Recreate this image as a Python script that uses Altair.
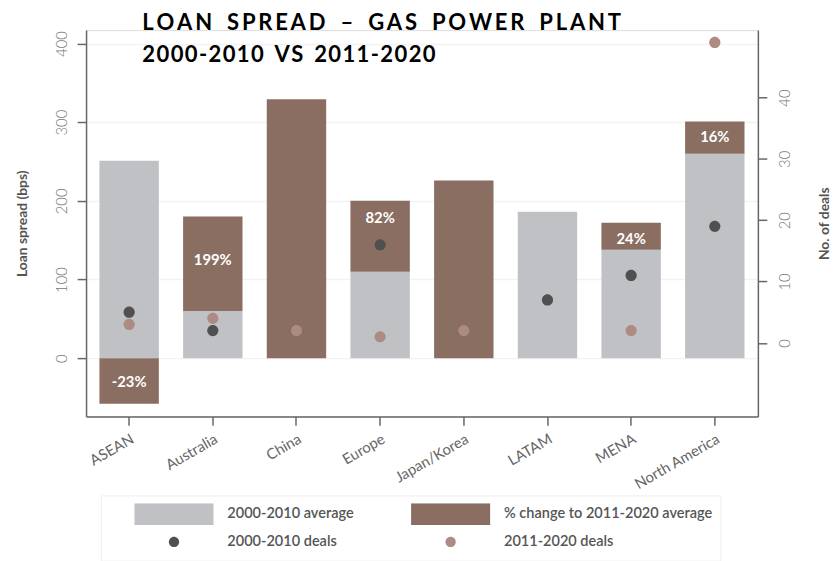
import altair as alt
import pandas as pd

# ---------------- data ----------------
regions = ["ASEAN", "Australia", "China", "Europe", "Japan/Korea", "LATAM", "MENA", "North America"]
avg_2000_2010 = [251, 60, None, 110, None, 186, 138, 260]          # bps
avg_2011_2020 = [193, 180, 329, 200, 226, None, 172, 301]          # bps
pct_change = ["-23%", "199%", None, "82%", None, None, "24%", "16%"]
label_value = [-30, 125, None, 178, None, None, 152, 281]          # bps level where the % label sits
deals_2000_2010 = [5, 2, None, 16, None, 7, 11, 19]
deals_2011_2020 = [3, 4, 2, 1, 2, None, 2, 49]

S_AVG = "2000-2010 average"
S_CHG = "% change to 2011-2020 average"
S_D1 = "2000-2010 deals"
S_D2 = "2011-2020 deals"
# legend fills column by column: (avg, deals 00-10) | (change, deals 11-20)
series = [S_AVG, S_D1, S_CHG, S_D2]
colors = ["#c0c1c5", "#505050", "#8a6e61", "#ad8b82"]

RECT = "M-1,-0.275H1V0.275H-1Z"
DOT = "M0.13,0A0.13,0.13,0,1,1,-0.13,0A0.13,0.13,0,1,1,0.13,0Z"
shapes = [RECT, DOT, RECT, DOT]

rows = []
for i, r in enumerate(regions):
    b, a = avg_2000_2010[i], avg_2011_2020[i]
    if a is None:
        lo = hi = None
    elif b is None:
        lo, hi = 0, a
    elif a >= b:
        lo, hi = b, a
    else:
        lo, hi = 0, a - b
    rows.append({
        "region": r, "base": b, "lo": lo, "hi": hi,
        "pct": pct_change[i], "label_at": label_value[i],
        S_D1: deals_2000_2010[i], S_D2: deals_2011_2020[i],
    })
df = pd.DataFrame(rows)

FONT = "Lato"
AXIS_GREY = "#666666"

color_scale = alt.Scale(domain=series, range=colors)
shape_scale = alt.Scale(domain=series, range=shapes)

legend = alt.Legend(
    title=None, orient="none", legendX=15, legendY=471, columns=2,
    symbolSize=6400, clipHeight=22, rowPadding=6, columnPadding=32,
    symbolOffset=25, labelOffset=13, padding=8, labelLimit=400,
    labelFont=FONT, labelFontSize=14.7, labelFontWeight=600, labelColor="#555555",
    strokeColor="#eeeeee", fillColor="white",
)

x_enc = alt.X(
    "region:N", sort=regions, title=None,
    scale=alt.Scale(paddingInner=0.29, paddingOuter=0.16),
    axis=alt.Axis(labelAngle=330, labelAlign="right", labelBaseline="top",
                  labelFont=FONT, labelFontSize=15, labelFontWeight=400, labelColor="#666666",
                  labelPadding=6, tickSize=9, tickColor=AXIS_GREY, tickWidth=1.5,
                  domainColor=AXIS_GREY, domainWidth=1.5, grid=False),
)

left_axis = alt.Axis(
    title="Loan spread (bps)", values=[0, 100, 200, 300, 400], orient="left",
    labelAngle=270, labelAlign="center", labelBaseline="bottom", labelPadding=8,
    labelFont=FONT, labelFontSize=15, labelFontWeight=300, labelColor="#777777",
    tickSize=9, tickColor=AXIS_GREY, tickWidth=1.5,
    domainColor=AXIS_GREY, domainWidth=1.5,
    grid=True, gridColor="#f2f2f2", gridWidth=1.5,
    titleFont=FONT, titleFontSize=14, titleFontWeight="bold", titleColor="#555555",
    titlePadding=25,
)
y_left_scale = alt.Scale(domain=[-74, 417], nice=False, zero=False)

right_axis = alt.Axis(
    title="No. of deals", values=[0, 10, 20, 30, 40], orient="right",
    labelAngle=270, labelAlign="center", labelBaseline="top", labelPadding=11,
    labelFont=FONT, labelFontSize=15, labelFontWeight=300, labelColor="#777777",
    tickSize=9, tickColor=AXIS_GREY, tickWidth=1.5,
    domainColor=AXIS_GREY, domainWidth=1.5, grid=False,
    titleAngle=270, titleBaseline="top",
    titleFont=FONT, titleFontSize=14, titleFontWeight="bold", titleColor="#555555",
    titlePadding=25,
)
y_right_scale = alt.Scale(domain=[-12, 51], nice=False, zero=False)

base = alt.Chart(df)

grey = base.transform_calculate(series=f"'{S_AVG}'").mark_bar().encode(
    x=x_enc,
    y=alt.Y("base:Q", scale=y_left_scale, axis=left_axis),
    color=alt.Color("series:N", scale=color_scale, legend=legend),
)
brown = base.transform_calculate(series=f"'{S_CHG}'").mark_bar().encode(
    x=x_enc,
    y=alt.Y("lo:Q", scale=y_left_scale, axis=left_axis),
    y2="hi:Q",
    color=alt.Color("series:N", scale=color_scale, legend=legend),
)
labels = base.mark_text(color="white", font=FONT, fontSize=15, fontWeight="bold", baseline="middle").encode(
    x=x_enc,
    y=alt.Y("label_at:Q", scale=y_left_scale, axis=left_axis),
    text="pct:N",
)
bars = alt.layer(grey, brown, labels)

dots = base.transform_fold([S_D1, S_D2], as_=["series", "deals"]).mark_point(
    filled=True, opacity=1, size=7552, strokeWidth=0
).encode(
    x=x_enc,
    y=alt.Y("deals:Q", scale=y_right_scale, axis=right_axis),
    color=alt.Color("series:N", scale=color_scale, legend=legend),
    shape=alt.Shape("series:N", scale=shape_scale, legend=legend),
)

L1 = "\u2009".join("LOAN SPREAD \u2013 GAS POWER PLANT").replace(" ", " \u2009\u200a")
L2 = "\u200a".join("2000-2010 VS 2011-2020").replace(" ", " \u200a\u200a")

chart = alt.layer(bars, dots).resolve_scale(y="independent").properties(
    width=680, height=391,
    padding={"left": 8, "top": 0, "right": 0, "bottom": 0},
    title=alt.TitleParams(
        text=[L1, L2], anchor="start", frame="group", orient="top",
        offset=-37, dx=57, font=FONT, fontSize=22.3, fontWeight="bold",
        color="black", lineHeight=33,
    ),
).configure_view(stroke=None).configure(background="white")

chart.save("out.html", embed_options={"renderer": "svg", "actions": False})
